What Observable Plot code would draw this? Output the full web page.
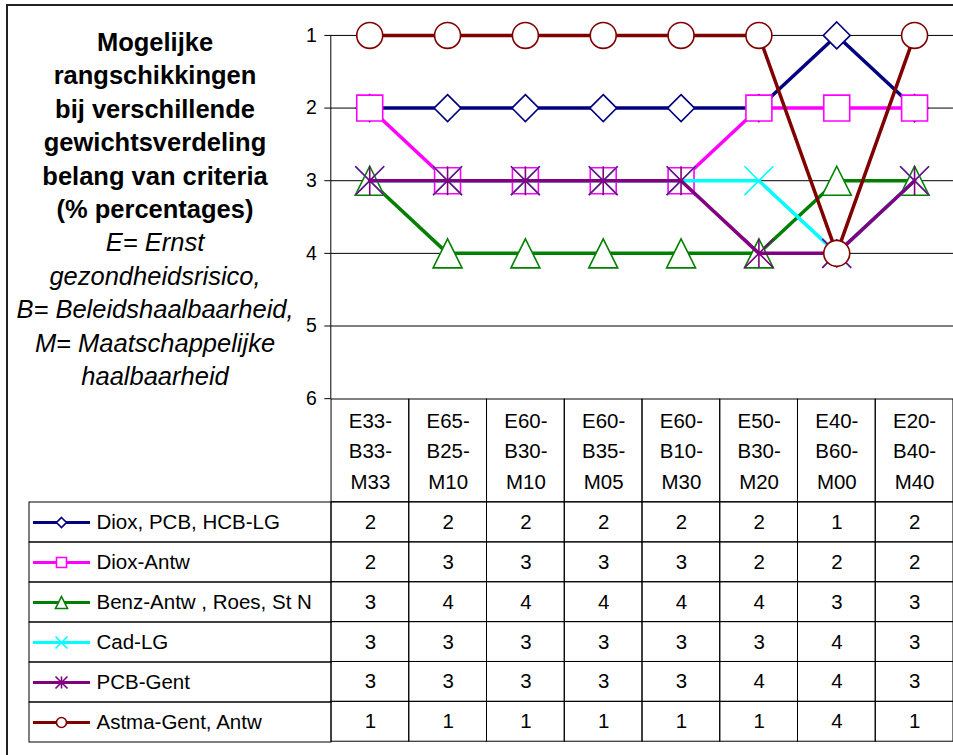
<!DOCTYPE html>
<html><head><meta charset="utf-8">
<script src="https://cdn.jsdelivr.net/npm/d3@7"></script>
<script src="https://cdn.jsdelivr.net/npm/@observablehq/plot@0.6"></script>
<style>
html,body{margin:0;padding:0;background:#fff;}
#wrap{position:relative;width:953px;height:755px;overflow:hidden;background:#fff;font-family:"Liberation Sans",Arial,sans-serif;color:#000;}
#border{position:absolute;left:6px;top:4px;width:1000px;height:1000px;border:2px solid #222;box-sizing:border-box;}
#title{position:absolute;left:5px;top:26px;width:300px;text-align:center;font-size:25.5px;line-height:33.4px;}
#title b{font-weight:bold;}
.part{position:absolute;}
.part svg{overflow:visible;display:block;}
</style></head>
<body>
<div id="wrap">
  <div id="border"></div>
  <div id="title">
    <b>Mogelijke</b><br><b>rangschikkingen</b><br><b>bij verschillende</b><br><b>gewichtsverdeling</b><br><b>belang van criteria</b><br><b>(% percentages)</b><br>
    <i>E= Ernst</i><br><i>gezondheidsrisico,</i><br><i>B= Beleidshaalbaarheid,</i><br><i>M= Maatschappelijke</i><br><i>haalbaarheid</i>
  </div>
  <div id="chart" class="part" style="left:0;top:0"></div>
  <div id="header" class="part" style="left:331px;top:399px"></div>
  <div id="legend" class="part" style="left:29px;top:502px"></div>
  <div id="body" class="part" style="left:331px;top:502px"></div>
</div>
<script>
// ---- data ----
const categories = ["E33-B33-M33","E65-B25-M10","E60-B30-M10","E60-B35-M05","E60-B10-M30","E50-B30-M20","E40-B60-M00","E20-B40-M40"];
const seriesNames = ["Diox, PCB, HCB-LG","Diox-Antw","Benz-Antw , Roes, St N","Cad-LG","PCB-Gent","Astma-Gent, Antw"];
const seriesColors = ["#000080","#FF00FF","#008000","#00FFFF","#800080","#800000"];
const dioxPcbHcbLG = [2,2,2,2,2,2,1,2];
const dioxAntw     = [2,3,3,3,3,2,2,2];
const benzAntw     = [3,4,4,4,4,4,3,3];
const cadLG        = [3,3,3,3,3,3,4,3];
const pcbGent      = [3,3,3,3,3,4,4,3];
const astmaGent    = [1,1,1,1,1,1,4,1];
const yTicks = [1,2,3,4,5,6];
const gridValues = [1,2,3,4,5];

const seriesValues = [dioxPcbHcbLG, dioxAntw, benzAntw, cadLG, pcbGent, astmaGent];

// ---- custom Excel-like marker symbols ----
function sym(fn){ return {draw(ctx, size){ const r = Math.sqrt(size/Math.PI); fn(ctx, r); }}; }
const symDiamond = sym((c,r)=>{c.moveTo(0,-r);c.lineTo(r,0);c.lineTo(0,r);c.lineTo(-r,0);c.closePath();});
const symSquare = sym((c,r)=>{c.moveTo(-r,-r);c.lineTo(r,-r);c.lineTo(r,r);c.lineTo(-r,r);c.closePath();});
const symTriangle = sym((c,r)=>{c.moveTo(0,-r);c.lineTo(r,r);c.lineTo(-r,r);c.closePath();});
const symX = sym((c,r)=>{c.moveTo(-r,-r);c.lineTo(r,r);c.moveTo(-r,r);c.lineTo(r,-r);});
const symStar = sym((c,r)=>{c.moveTo(-r,-r);c.lineTo(r,r);c.moveTo(-r,r);c.lineTo(r,-r);c.moveTo(0,-r);c.lineTo(0,r);});
const symCircle = sym((c,r)=>{c.moveTo(r,0);c.arc(0,0,r,0,2*Math.PI);});
const seriesSymbols = [symDiamond, symSquare, symTriangle, symX, symStar, symCircle];
const chartR = [13.5, 13, 14.5, 14.5, 14.5, 13];
const legendR = [5, 5, 6, 6, 6, 5];

const font = "'Liberation Sans', Arial, sans-serif";
const baseStyle = {fontFamily: font, fontSize: "20px", overflow: "visible", background: "transparent", color: "#000"};

// ---- line chart ----
const chartMarks = [
  Plot.ruleY(gridValues, {stroke: "#000", strokeWidth: 1}),
  Plot.frame({anchor: "left", stroke: "#000"}),
  Plot.axisY({ticks: yTicks, tickSize: 6, tickPadding: 8, fontSize: 19.5, tickFormat: d => String(d), stroke: "#000", label: null})
];
seriesNames.forEach((name, i) => {
  const pts = categories.map((c, j) => ({cat: c, v: seriesValues[i][j]}));
  chartMarks.push(Plot.line(pts, {x: "cat", y: "v", stroke: seriesColors[i], strokeWidth: 3.5}));
  chartMarks.push(Plot.dot(pts, {x: "cat", y: "v", symbol: seriesSymbols[i], r: chartR[i], stroke: seriesColors[i], fill: "white", strokeWidth: 1.6}));
});
document.getElementById("chart").append(Plot.plot({
  width: 955, height: 400,
  marginLeft: 331, marginRight: 0, marginTop: 35, marginBottom: 1,
  style: baseStyle,
  x: {type: "band", domain: categories, padding: 0, axis: null},
  y: {domain: [1, 6], reverse: true, axis: null, label: null},
  marks: chartMarks
}));

// ---- table header (categories) ----
document.getElementById("header").append(Plot.plot({
  width: 624, height: 103, margin: 0,
  style: baseStyle,
  x: {type: "band", domain: categories, padding: 0, axis: null},
  marks: [
    Plot.cell(categories, {x: d => d, fill: "none", stroke: "#000", inset: 0}),
    Plot.text(categories, {x: d => d, frameAnchor: "middle", text: d => d.split("-").join("-\n"), lineHeight: 1.475, fontSize: 20.5, dy: -2})
  ]
}));

// ---- table legend column ----
const legendMarks = [Plot.cell(seriesNames, {y: d => d, fill: "none", stroke: "#000", inset: 0})];
seriesNames.forEach((name, i) => {
  legendMarks.push(Plot.ruleY([name], {y: d => d, stroke: seriesColors[i], strokeWidth: 3, insetLeft: 4, insetRight: 241}));
  legendMarks.push(Plot.dot([name], {y: d => d, frameAnchor: "left", dx: 32, symbol: seriesSymbols[i], r: legendR[i], stroke: seriesColors[i], fill: "white", strokeWidth: 1.6}));
});
legendMarks.push(Plot.text(seriesNames, {y: d => d, text: d => d, frameAnchor: "left", dx: 67, textAnchor: "start", fontSize: 20.5}));
document.getElementById("legend").append(Plot.plot({
  width: 302, height: 240, margin: 0,
  style: baseStyle,
  y: {type: "band", domain: seriesNames, padding: 0, axis: null},
  marks: legendMarks
}));

// ---- table body (values) ----
const tableRows = [];
seriesNames.forEach((name, i) => categories.forEach((c, j) => tableRows.push({cat: c, series: name, v: seriesValues[i][j]})));
document.getElementById("body").append(Plot.plot({
  width: 624, height: 240, margin: 0,
  style: baseStyle,
  x: {type: "band", domain: categories, padding: 0, axis: null},
  y: {type: "band", domain: seriesNames, padding: 0, axis: null},
  marks: [
    Plot.cell(tableRows, {x: "cat", y: "series", fill: "none", stroke: "#000", inset: 0}),
    Plot.text(tableRows, {x: "cat", y: "series", text: d => String(d.v), fontSize: 20.5})
  ]
}));
</script>
</body></html>
